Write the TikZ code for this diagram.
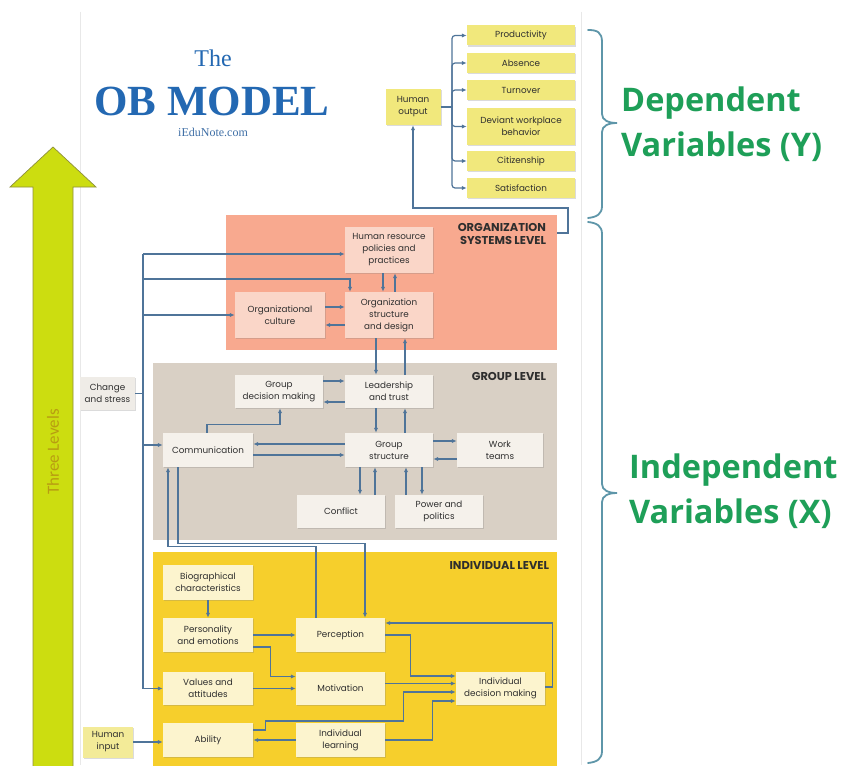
\documentclass[tikz,border=0pt]{standalone}
\usepackage{fontspec}
\setmainfont{Liberation Serif}
\newfontfamily\boxfont{Poppins}
\newfontfamily\varfont{Open Sans}
\newfontfamily\lvlfont{Carlito}
\usetikzlibrary{arrows.meta,shadows,calc}

\definecolor{connc}{HTML}{4F7499}
\definecolor{orgbg}{HTML}{F8A98F}
\definecolor{orgbox}{HTML}{FAD6C8}
\definecolor{grpbg}{HTML}{D9D0C5}
\definecolor{grpbox}{HTML}{F5F1EB}
\definecolor{indbg}{HTML}{F6CF2C}
\definecolor{indbox}{HTML}{FCF4CE}
\definecolor{outbox}{HTML}{F1E87C}
\definecolor{inbox}{HTML}{F3EB98}
\definecolor{titleblue}{HTML}{2368B2}
\definecolor{webblue}{HTML}{3F6FA6}
\definecolor{vargreen}{HTML}{1E9F58}
\definecolor{bracec}{HTML}{5E96A9}
\definecolor{lvlfill}{HTML}{CCDD10}
\definecolor{lvledge}{HTML}{8E8F3C}
\definecolor{lvltext}{HTML}{B89C12}
\definecolor{txt}{HTML}{2F2F2F}
\definecolor{chgbox}{HTML}{EFECE7}
\definecolor{pageedge}{HTML}{E8E8E8}

\tikzset{
  box/.style={draw=none, font=\boxfont\fontsize{8.8}{12}\selectfont, text=txt,
    align=center, inner sep=1pt,
    drop shadow={shadow xshift=1.2pt, shadow yshift=-1.2pt, opacity=0.28}},
  sz/.style 2 args={minimum width=#1pt, minimum height=#2pt},
  orgb/.style={box, fill=orgbox},
  grpb/.style={box, fill=grpbox},
  indb/.style={box, fill=indbox},
  outb/.style={box, fill=outbox},
  level/.style={draw=none, inner sep=0pt},
  lvllabel/.style={font=\boxfont\bfseries\fontsize{11.4}{13}\selectfont, text=black!82,
    align=right, inner sep=0pt, anchor=north east},
  conn/.style={draw=connc, line width=1.2pt, -{Latex[length=5pt,width=4.2pt]}},
  wire/.style={draw=connc, line width=1.2pt},
  brace/.style={draw=bracec, line width=1.8pt, line cap=round},
  vartext/.style={font=\varfont\bfseries\fontsize{32.5}{45}\selectfont, text=vargreen,
    align=left, anchor=west, inner sep=0pt},
}

\begin{document}
\begin{tikzpicture}[x=1pt,y=-1pt]
\useasboundingbox (0,0) rectangle (845,765);
\fill[white] (0,0) rectangle (845,765);

% page edges
\draw[pageedge, line width=0.8pt] (80,12) -- (80,765);
\draw[pageedge, line width=0.8pt] (581,12) -- (581,765);

% rising arrow for the three levels
\filldraw[fill=lvlfill, draw=lvledge, line width=0.7pt, line join=miter]
  (33,770) -- (33,187) -- (10,187) -- (53,147) -- (96,187) -- (73,187) -- (73,770);
\node[rotate=90, font=\lvlfont\fontsize{17}{17}\selectfont, text=lvltext] (three) at (53,452) {Three Levels};

% title
\node[font=\fontsize{24}{24}\selectfont, text=titleblue] (the) at (213,58) {The};
\node[font=\bfseries\fontsize{43}{43}\selectfont, text=titleblue] (obm) at (212,101) {OB MODEL};
\node[font=\fontsize{12}{12}\selectfont, text=webblue] (web) at (213,132) {iEduNote.com};

% ---------- level backgrounds ----------
\node[level, fill=orgbg, sz={331}{135}] (orglvl) at (391.5,282.5) {};
\node[level, fill=grpbg, sz={404}{177}] (grplvl) at (355,451.5) {};
\node[level, fill=indbg, sz={404}{222}] (indlvl) at (355,663) {};

\node[lvllabel] (orglab) at ([xshift=-11pt,yshift=-8pt]orglvl.north east) {ORGANIZATION\\SYSTEMS LEVEL};
\node[lvllabel] (grplab) at ([xshift=-11pt,yshift=-9pt]grplvl.north east) {GROUP LEVEL};
\node[lvllabel] (indlab) at ([xshift=-8pt,yshift=-9pt]indlvl.north east) {INDIVIDUAL LEVEL};

% ---------- outputs ----------
\node[outb, sz={55}{36}] (hout) at (413,107) {Human\\output};
\node[outb, sz={108}{20}] (prod) at (521,35.5) {Productivity};
\node[outb, sz={108}{20}] (abs) at (521,63) {Absence};
\node[outb, sz={108}{20}] (turn) at (521,90) {Turnover};
\node[outb, sz={108}{37}] (dev) at (521,126.5) {Deviant workplace\\behavior};
\node[outb, sz={108}{20}] (cit) at (521,161) {Citizenship};
\node[outb, sz={108}{20}] (sat) at (521,188) {Satisfaction};

\coordinate (obus) at (452,107);
\draw[wire] (hout.east) -- (obus);
\foreach \t in {prod,abs,turn,dev,cit,sat}
  \draw[conn, rounded corners=3pt] (obus) |- (\t.west);

% ---------- organization systems level ----------
\node[orgb, sz={88}{46}] (hr) at (389,250) {Human resource\\policies and\\practices};
\node[orgb, sz={88}{46}] (ostr) at (389,315) {Organization\\structure\\and design};
\node[orgb, sz={90}{46}] (ocult) at (280,315) {Organizational\\culture};

\draw[conn] ([xshift=-6pt]hr.south) -- ([xshift=-6pt]ostr.north);
\draw[conn] ([xshift=6pt]ostr.north) -- ([xshift=6pt]hr.south);
\draw[conn] ([yshift=8pt]ocult.east) -- ([yshift=8pt]ostr.west);
\draw[conn] ([yshift=-10pt]ostr.west) -- ([yshift=-10pt]ocult.east);

% organization systems feed the human output
\coordinate (orgout) at (557,233);
\draw[conn] (orgout) -- ++(11,0) -- ++(0,-25) -| (hout.south);

% ---------- group level ----------
\node[grpb, sz={88}{33}] (gdm) at (279,391.5) {Group\\decision making};
\node[grpb, sz={88}{33}] (lead) at (389,391.5) {Leadership\\and trust};
\node[grpb, sz={90}{34}] (comm) at (208,450) {Communication};
\node[grpb, sz={88}{34}] (gstr) at (389,450) {Group\\structure};
\node[grpb, sz={86}{34}] (wt) at (500,450) {Work\\teams};
\node[grpb, sz={88}{33}] (confl) at (341,511.5) {Conflict};
\node[grpb, sz={88}{33}] (power) at (439,511.5) {Power and\\politics};

\draw[conn] ([xshift=-13pt]ostr.south) -- ([xshift=-13pt]lead.north);
\draw[conn] ([xshift=16pt]lead.north) -- ([xshift=16pt]ostr.south);
\draw[conn] ([yshift=10.5pt]gdm.east) -- ([yshift=10.5pt]lead.west);
\draw[conn] ([yshift=-10.5pt]lead.west) -- ([yshift=-10.5pt]gdm.east);
\draw[conn] ([xshift=-13pt]lead.south) -- ([xshift=-13pt]gstr.north);
\draw[conn] ([xshift=16pt]gstr.north) -- ([xshift=16pt]lead.south);
\draw[conn] ([xshift=-1pt]comm.north) -- ++(0,-8) -| ([xshift=1pt]gdm.south);
\draw[conn] ([yshift=6pt]gstr.west) -- ([yshift=6pt]comm.east);
\draw[conn] ([yshift=-5pt]comm.east) -- ([yshift=-5pt]gstr.west);
\draw[conn] ([yshift=9pt]gstr.east) -- ([yshift=9pt]wt.west);
\draw[conn] ([yshift=-9pt]wt.west) -- ([yshift=-9pt]gstr.east);
\draw[conn] ([xshift=-29pt]gstr.south) -- ([xshift=19pt]confl.north);
\draw[conn] ([xshift=34pt]confl.north) -- ([xshift=-14pt]gstr.south);
\draw[conn] ([xshift=-33pt]power.north) -- ([xshift=17pt]gstr.south);
\draw[conn] ([xshift=33pt]gstr.south) -- ([xshift=-17pt]power.north);

% ---------- individual level ----------
\node[indb, sz={90}{35}] (bio) at (208,582.5) {Biographical\\characteristics};
\node[indb, sz={90}{34}] (pers) at (208,635) {Personality\\and emotions};
\node[indb, sz={89}{34}] (perc) at (340.5,635) {Perception};
\node[indb, sz={90}{33}] (vals) at (208,688.5) {Values and\\attitudes};
\node[indb, sz={89}{33}] (motiv) at (340.5,688.5) {Motivation};
\node[indb, sz={89}{33}] (idm) at (500.5,688.5) {Individual\\decision making};
\node[indb, sz={90}{34}] (abil) at (208,740) {Ability};
\node[indb, sz={89}{34}] (ilearn) at (340.5,740) {Individual\\learning};
\node[box, fill=inbox, sz={50}{31}] (hin) at (108,742) {Human\\input};

\draw[conn] (bio.south) -- (pers.north);
\draw[conn] (pers.east) -- (perc.west);
\draw[conn] ([yshift=-12pt]pers.east) -- ++(17,0) |- ([yshift=12pt]motiv.west);
\draw[conn] (vals.east) -- (motiv.west);
\draw[conn] (hin.east) -- (hin.east -| abil.west);
\draw[conn] (ilearn.west) -- (abil.east);
\draw[conn] (perc.east) -- ++(25,0) |- ([yshift=12.5pt]idm.west);
\draw[conn] ([yshift=5pt]motiv.east) -- ([yshift=5pt]idm.west);
\draw[conn] ([yshift=10pt]abil.east) -- ++(12,0) -- ++(0,-9) -- ++(138,0) |- ([yshift=-3.5pt]idm.west);
\draw[conn] (ilearn.east) -- ++(47,0) |- ([yshift=-12.5pt]idm.west);
\draw[conn] ([yshift=1.5pt]idm.east) -- ++(7,0) |- ([yshift=12pt]perc.east);

% perception and communication across the level boundary
\draw[conn] ([xshift=-24.5pt]perc.north) -- ++(0,-71) -| ([xshift=-40pt]comm.south);
\draw[conn] ([xshift=-30pt]comm.south) -- ++(0,76) -| ([xshift=24.5pt]perc.north);

% ---------- change and stress, left bus ----------
\node[box, fill=chgbox, sz={55}{33}] (chg) at (107.5,393.5) {Change\\and stress};

\coordinate (bustop) at (143,254);
\coordinate (bushr) at (143,279);
\coordinate (buscult) at (143,315);
\coordinate (buschg) at (143,393.5);
\coordinate (buscomm) at (143,445);
\coordinate (busbot) at (143,688.5);

\draw[wire] (bustop) -- (busbot);
\draw[wire] (chg.east) -- (buschg);
\draw[conn] (bustop) -- (bustop -| hr.west);
\draw[conn] (bushr) -| ([xshift=-39pt]ostr.north);
\draw[conn] (buscult) -- (ocult.west);
\draw[conn] (buscomm) -- (buscomm -| comm.west);
\draw[conn] (busbot) -- (vals.west);

% ---------- braces and variable labels ----------
\draw[brace] (588,30) .. controls (597,30) and (602,32) .. (602,42)
  -- (602,114) .. controls (602,120) and (608,123) .. (617,123)
  .. controls (608,123) and (602,126) .. (602,132)
  -- (602,206) .. controls (602,214) and (597,217) .. (588,218);
\draw[brace] (588,222) .. controls (597,223) and (602,226) .. (602,234)
  -- (602,484) .. controls (602,490) and (608,493) .. (617,493)
  .. controls (608,493) and (602,496) .. (602,502)
  -- (602,751) .. controls (602,759) and (597,762) .. (588,763);

\node[vartext] (dep) at (621,124) {Dependent\\Variables (Y)};
\node[vartext] (indep) at (629,491) {Independent\\Variables (X)};
\end{tikzpicture}
\end{document}
